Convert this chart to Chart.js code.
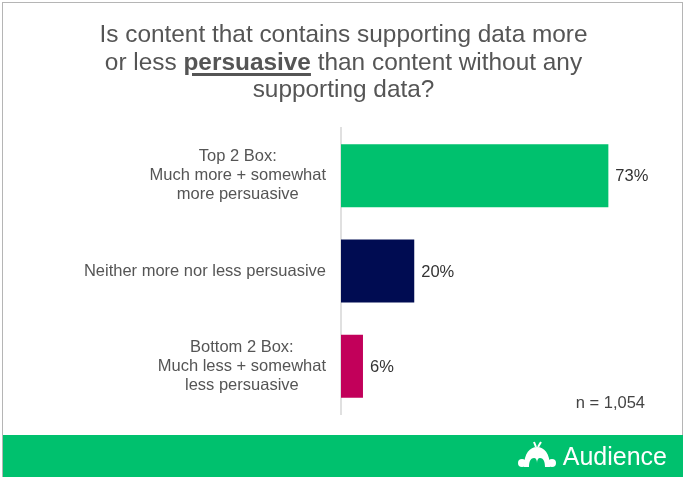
<!DOCTYPE html>
<html>
<head>
<meta charset="utf-8">
<script src="https://cdn.jsdelivr.net/npm/chart.js@4/dist/chart.umd.min.js"></script>
<style>
    body { margin: 0; background: #fff; }
    #wrap { position: relative; width: 687px; height: 481px; overflow: hidden; font-family: "Liberation Sans", Arial, sans-serif; }
    #frame { position: absolute; left: 2px; top: 2px; width: 681px; height: 475px; border: 1px solid #b5b5b5; box-sizing: border-box; }
    #title { position: absolute; left: 0; top: 20px; width: 687px; text-align: center; color: #555; font-size: 24.4px; line-height: 27.5px; }
    #title b { text-decoration: underline; text-decoration-thickness: 3px; text-underline-offset: 3px; }
    #footer { position: absolute; left: 3px; top: 435px; width: 680px; height: 42px; background: #00c16e; }
    #brand { position: absolute; right: 16px; top: 5px; color: #fff; font-size: 25px; line-height: 32px; display: flex; align-items: center; }
    #brand svg { margin-right: 5px; }
    canvas { position: absolute; left: 0; top: 0; }
</style>
</head>
<body>
<div id="wrap">
    <canvas id="chart" width="687" height="481"></canvas>
    <div id="frame"></div>
    <div id="title">Is content that contains supporting data more<br>or less <b>persuasive</b> than content without any<br>supporting data?</div>
    <div id="footer">
        <div id="brand">
            <svg width="42" height="30" viewBox="0 0 42 30">
                <path d="M8 26 C8 12 14 6 21 6 C28 6 34 12 34 26 L29 26 C29 20 27 17 24 17 C22 17 21 19 21 22 C21 19 20 17 18 17 C15 17 13 20 13 26 Z" fill="#fff"/>
                <circle cx="6" cy="22" r="4" fill="#fff"/>
                <circle cx="36" cy="22" r="4" fill="#fff"/>
                <path d="M20 6 L18 1 M22 6 L25 1" stroke="#fff" stroke-width="2"/>
            </svg>
            Audience
        </div>
    </div>
</div>
<script>
// chart data
const categories = [
    ['Top 2 Box:', 'Much more + somewhat', 'more persuasive'],
    ['Neither more nor less persuasive'],
    ['Bottom 2 Box:', 'Much less + somewhat', 'less persuasive']
];
const values = [73, 20, 6];
const barColors = ['#00c16e', '#000c52', '#c2005a'];
const sampleNote = 'n = 1,054';

// draws the multi-line category labels, centred on their longest line
const categoryLabels = {
    id: 'categoryLabels',
    afterDraw(chart) {
        const ctx = chart.ctx;
        const yScale = chart.scales.y;
        ctx.save();
        ctx.font = '16.5px "Liberation Sans", Arial, sans-serif';
        ctx.fillStyle = '#555';
        ctx.textAlign = 'center';
        ctx.textBaseline = 'middle';
        categories.forEach((lines, i) => {
            const maxW = Math.max(...lines.map(l => ctx.measureText(l).width));
            const cx = 326 - maxW / 2;
            const cy = yScale.getPixelForValue(i);
            const lh = 19;
            lines.forEach((line, j) => {
                ctx.fillText(line, cx, cy + (j - (lines.length - 1) / 2) * lh);
            });
        });
        ctx.restore();
    }
};

// value labels at bar ends, plus the sample size note
const valueLabels = {
    id: 'valueLabels',
    afterDatasetsDraw(chart) {
        const ctx = chart.ctx;
        const meta = chart.getDatasetMeta(0);
        ctx.save();
        ctx.font = '16.5px "Liberation Sans", Arial, sans-serif';
        ctx.fillStyle = '#333';
        ctx.textAlign = 'left';
        ctx.textBaseline = 'middle';
        meta.data.forEach((bar, i) => {
            ctx.fillText(values[i] + '%', bar.x + 7, bar.y + 1);
        });
        ctx.fillStyle = '#444';
        ctx.textAlign = 'right';
        ctx.fillText(sampleNote, 645, 403);
        ctx.restore();
    }
};

new Chart(document.getElementById('chart'), {
    type: 'bar',
    data: {
        labels: categories.map(c => c.join(' ')),
        datasets: [{
            data: values,
            backgroundColor: barColors,
            barPercentage: 0.66,
            categoryPercentage: 1
        }]
    },
    options: {
        indexAxis: 'y',
        responsive: false,
        animation: false,
        devicePixelRatio: 1,
        layout: { padding: { left: 333, top: 128, bottom: 67, right: 53 } },
        plugins: {
            legend: { display: false },
            tooltip: { enabled: false }
        },
        scales: {
            x: { display: false, min: 0, max: 80 },
            y: {
                grid: { display: false },
                border: { display: true, color: '#e0e0e0', width: 2 },
                ticks: { display: false }
            }
        }
    },
    plugins: [categoryLabels, valueLabels]
});
</script>
</body>
</html>
